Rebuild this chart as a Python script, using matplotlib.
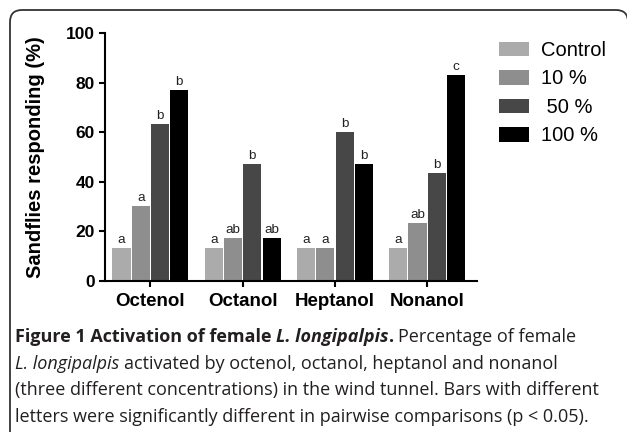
import matplotlib
matplotlib.use("Agg")
import matplotlib.pyplot as plt
import numpy as np
from matplotlib.patches import FancyBboxPatch, Patch

# ---- data ----
compounds = ["Octenol", "Octanol", "Heptanol", "Nonanol"]
series_names = ["Control", "10 %", " 50 %", "100 %"]
control = [13.3, 13.3, 13.3, 13.3]
conc10 = [30.4, 17.5, 13.3, 23.4]
conc50 = [63.3, 47.2, 60.2, 43.4]
conc100 = [77.3, 17.5, 47.4, 83.3]
letters_control = ["a", "a", "a", "a"]
letters_10 = ["a", "ab", "a", "ab"]
letters_50 = ["b", "b", "b", "b"]
letters_100 = ["b", "ab", "b", "c"]
y_ticks = [0, 20, 40, 60, 80, 100]
y_label = "Sandflies responding (%)"

colors = ["#ababab", "#8e8e8e", "#474747", "#000000"]

W, H = 627, 432
fig = plt.figure(figsize=(W / 100, H / 100), dpi=100)
fig.patch.set_facecolor("white")

CH = "Liberation Sans"
# axes placement (pixel based)
ax_l, ax_r, ax_t, ax_b = 105, 477, 33.3, 281
ax = fig.add_axes([ax_l / W, 1 - ax_b / H, (ax_r - ax_l) / W, (ax_b - ax_t) / H])

series = [control, conc10, conc50, conc100]
letters = [letters_control, letters_10, letters_50, letters_100]
x = np.arange(len(compounds))
pitch = 0.209
bw = 0.197
for i, (vals, col, labs) in enumerate(zip(series, colors, letters)):
    pos = x + (i - 1.5) * pitch
    bars = ax.bar(pos, vals, width=bw, color=col, edgecolor="none", label=series_names[i], zorder=2)
    for b, lab in zip(bars, labs):
        ax.annotate(lab, (b.get_x() + b.get_width() / 2, b.get_height()),
                    xytext=(0, 3.6), textcoords="offset points", ha="center", va="baseline",
                    fontsize=9.7, color="#222222", family=CH)

ax.set_xlim(-0.493, 3.54)
ax.set_ylim(0, 100)
ax.set_yticks(y_ticks)
ax.set_xticks(x)
ax.set_xticklabels(compounds, fontsize=13.5, fontweight="bold", family=CH)
ax.set_yticklabels([str(v) for v in y_ticks], fontsize=12.5, fontweight="bold", family=CH)
for s in ["top", "right"]:
    ax.spines[s].set_visible(False)
for s in ["left", "bottom"]:
    ax.spines[s].set_linewidth(1.5)
ax.tick_params(axis="both", width=1.5, length=4.5, direction="out")
ax.tick_params(axis="y", pad=3)
ax.tick_params(axis="x", pad=4)
ax.set_ylabel(y_label, fontsize=14.5, fontweight="bold", family=CH, labelpad=6)
ax.yaxis.set_label_coords((44.5 - ax_l) / (ax_r - ax_l), 0.5)

handles = [Patch(facecolor=c, edgecolor="none") for c in colors]
fig.legend(handles, series_names, loc="upper left",
           bbox_to_anchor=(499 / W, 1 - 41 / H), frameon=False,
           prop={"family": CH, "size": 14.5}, handlelength=1.49, handleheight=0.75,
           handletextpad=0.6, labelspacing=0.47, borderpad=0, borderaxespad=0)

# ---- border (rounded box, partly outside the image) ----
box = FancyBboxPatch((10, -20), 618, H - 10 + 20, boxstyle="round,pad=0,rounding_size=12",
                     transform=None, facecolor="none", edgecolor="#333333", linewidth=1.3)
fig.patches.append(box)

# ---- caption ----
CF = "Open Sans"
csize = 13.0
renderer = fig.canvas.get_renderer()

def space_width(props):
    t1 = fig.text(0, 0, "n n", fontsize=csize, family=CF, **props)
    t2 = fig.text(0, 0, "nn", fontsize=csize, family=CF, **props)
    w = t1.get_window_extent(renderer).width - t2.get_window_extent(renderer).width
    t1.remove(); t2.remove()
    return w

def draw_line(segs, x0, ybase):
    xx = x0
    for txt, props, sp in segs:
        if sp:
            xx += space_width(props)
        t = fig.text(xx / W, 1 - ybase / H, txt, fontsize=csize, family=CF,
                     ha="left", va="baseline", color="#231f20", **props)
        xx = t.get_window_extent(renderer).x1

B = {"fontweight": "bold"}
BI = {"fontweight": "bold", "style": "italic"}
R = {}
I = {"style": "italic"}
draw_line([("Figure 1 Activation of female", B, False), ("L. longipalpis", BI, True),
           (".", B, False), ("Percentage of female", R, True)], 15, 342.3)
draw_line([("L. longipalpis", I, False), ("activated by octenol, octanol, heptanol and nonanol", R, True)], 15, 368.8)
draw_line([("(three different concentrations) in the wind tunnel. Bars with different", R, False)], 15, 395.2)
draw_line([("letters were significantly different in pairwise comparisons (p < 0.05).", R, False)], 15, 421.7)

fig.savefig("out.png", dpi=100)
